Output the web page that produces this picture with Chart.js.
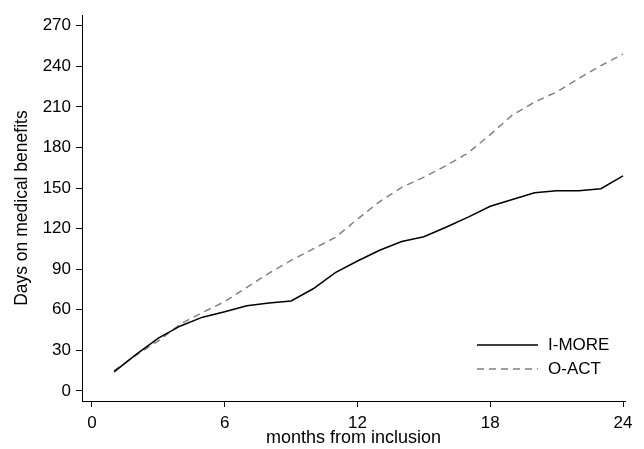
<!DOCTYPE html>
<html>
<head>
<meta charset="utf-8">
<script src="https://cdn.jsdelivr.net/npm/chart.js@4"></script>
<style>
  html, body { margin: 0; padding: 0; background: #fff; }
  #wrap { width: 644px; height: 449px; }
</style>
</head>
<body>
<div id="wrap"><canvas id="chart" width="644" height="449"></canvas></div>
<script>
// months since inclusion
var months = [1, 2, 3, 4, 5, 6, 7, 8, 9, 10, 11, 12, 13, 14, 15, 16, 17, 18, 19, 20, 21, 22, 23, 24];
// mean days on medical benefits
var imore = [14, 27, 39, 48, 54.5, 58.5, 63, 65, 66.5, 75.5, 87.5, 96, 104, 110.5, 114, 121, 128.5, 136.5, 141.5, 146.5, 148, 148, 149.5, 159];
var oact  = [15, 26.5, 37, 49.5, 58, 66, 76.5, 87, 96.5, 105, 113.5, 127, 140, 150.5, 158, 166.5, 176, 189.5, 204, 213.5, 221, 231, 240.5, 249];

var xTicks = [0, 6, 12, 18, 24];
var yTicks = [0, 30, 60, 90, 120, 150, 180, 210, 240, 270];

var font = "'Liberation Sans', Arial, sans-serif";

function toPoints(xs, ys) {
    var pts = [];
    for (var i = 0; i < xs.length; i++) {
        pts.push({x: xs[i], y: ys[i]});
    }
    return pts;
}

// legend drawn inside the plot region, bottom right
var insideLegend = {
    id: 'insideLegend',
    afterDraw: function (chart) {
        var ctx = chart.ctx;
        var area = chart.chartArea;
        var x0 = area.right - 148;
        var y0 = area.bottom - 56;
        ctx.save();
        ctx.font = '17px ' + font;
        ctx.textBaseline = 'middle';
        chart.data.datasets.forEach(function (ds, i) {
            var y = y0 + i * 24;
            ctx.beginPath();
            ctx.strokeStyle = ds.borderColor;
            ctx.lineWidth = ds.borderWidth;
            ctx.setLineDash(ds.borderDash || []);
            ctx.moveTo(x0, y);
            ctx.lineTo(x0 + 61, y);
            ctx.stroke();
            ctx.setLineDash([]);
            ctx.fillStyle = '#000';
            ctx.fillText(ds.label, x0 + 71, y);
        });
        ctx.restore();
    }
};

var chart = new Chart(document.getElementById('chart'), {
    type: 'line',
    data: {
        datasets: [{
            label: 'I-MORE',
            data: toPoints(months, imore),
            borderColor: '#000000',
            borderWidth: 1.5,
            pointRadius: 0,
            tension: 0,
            fill: false
        }, {
            label: 'O-ACT',
            data: toPoints(months, oact),
            borderColor: '#808080',
            borderWidth: 1.5,
            borderDash: [7, 5],
            pointRadius: 0,
            tension: 0,
            fill: false
        }]
    },
    options: {
        responsive: false,
        animation: false,
        layout: { padding: { top: 10, right: 19, left: 0, bottom: 0 } },
        plugins: {
            legend: { display: false },
            tooltip: { enabled: false }
        },
        scales: {
            x: {
                type: 'linear',
                min: -0.45,
                max: 24.09,
                afterBuildTicks: function (scale) {
                    scale.ticks = xTicks.map(function (v) { return {value: v}; });
                },
                afterFit: function (scale) { scale.height = 48; },
                grid: { drawOnChartArea: false, drawTicks: true, tickLength: 6, color: '#000', lineWidth: 1 },
                border: { display: true, color: '#000', width: 1 },
                ticks: { color: '#000', font: { family: font, size: 17 }, padding: 6, maxRotation: 0 },
                title: {
                    display: true,
                    text: 'months from inclusion',
                    color: '#000',
                    font: { family: font, size: 18 },
                    padding: { top: 0, bottom: 0 }
                }
            },
            y: {
                min: -7.5,
                max: 277.8,
                afterBuildTicks: function (scale) {
                    scale.ticks = yTicks.map(function (v) { return {value: v}; });
                },
                afterFit: function (scale) { scale.width = 82; },
                grid: { drawOnChartArea: false, drawTicks: true, tickLength: 6, color: '#000', lineWidth: 1 },
                border: { display: true, color: '#000', width: 1 },
                ticks: { color: '#000', font: { family: font, size: 17 }, padding: 5 },
                title: {
                    display: true,
                    text: 'Days on medical benefits',
                    color: '#000',
                    font: { family: font, size: 17.5 },
                    padding: { top: 12, bottom: 0 }
                }
            }
        }
    },
    plugins: [insideLegend]
});
</script>
</body>
</html>
